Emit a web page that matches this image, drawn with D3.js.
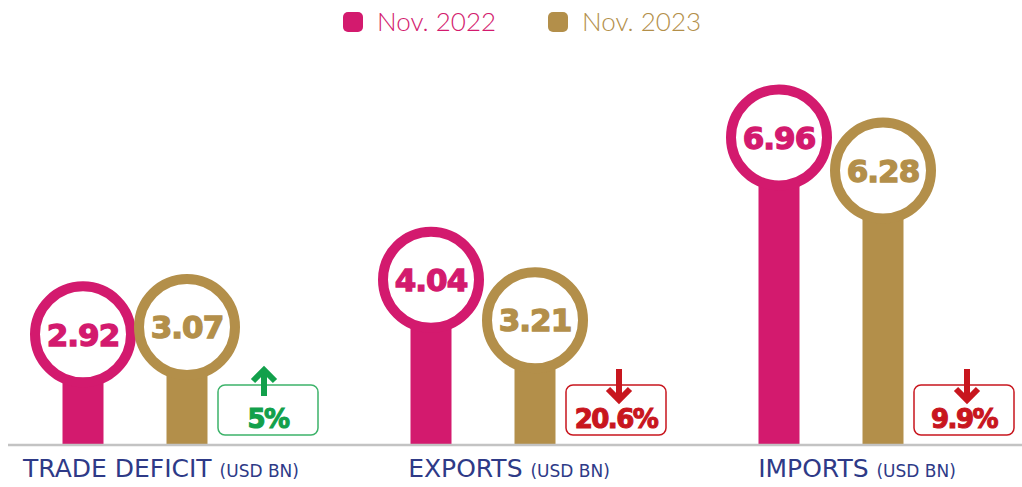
<!DOCTYPE html>
<html>
<head>
<meta charset="utf-8">
<script src="https://cdn.jsdelivr.net/npm/d3@7"></script>
<style>
  body { margin: 0; background: #fff; }
  svg { display: block; }
</style>
</head>
<body>
<div id="chart"></div>
<script>
var categories = ["TRADE DEFICIT", "EXPORTS", "IMPORTS"];
var unitLabel = "(USD BN)";
var seriesNames = ["Nov. 2022", "Nov. 2023"];
var nov2022 = [2.92, 4.04, 6.96];
var nov2023 = [3.07, 3.21, 6.28];
var changePct = [5, -20.6, -9.9];

var colors = ["#d31a6e", "#b38f4a"];
var upColor = "#12a04b", downColor = "#c8161e";

var width = 1022, height = 487;
var baseline = 445;

var svg = d3.select("#chart")
    .append("svg")
        .attr("width", width)
        .attr("height", height);

// group centres and the two lollipops inside each group
var x0 = d3.scalePoint()
    .domain(categories)
    .range([135, 831]);

var x1 = d3.scalePoint()
    .domain(seriesNames)
    .range([-52, 52]);

// circle centre height (infographic, not zero based)
var yScale = d3.scaleLinear()
    .domain([0.65, 7])
    .range([baseline, baseline - 309.5]);

var rows = [];
categories.forEach(function(c, i) {
    rows.push({cat: c, s: 0, value: nov2022[i]});
    rows.push({cat: c, s: 1, value: nov2023[i]});
});

// legend
var legend = svg.append("g");
var legendItem = legend.selectAll("g.item")
    .data(seriesNames)
    .enter()
    .append("g")
    .attr("class", "item")
    .attr("transform", function(d, i) { return "translate(" + (343 + i * 205) + ",12)"; });

legendItem.append("rect")
    .attr("width", 20)
    .attr("height", 20)
    .attr("rx", 5)
    .style("fill", function(d, i) { return colors[i]; });

legendItem.append("text")
    .attr("x", 34)
    .attr("y", 19)
    .style("font-family", "Lato")
    .style("font-weight", 300)
    .style("font-size", "26px")
    .style("fill", function(d, i) { return colors[i]; })
    .text(function(d) { return d; });

// stems first, then rings on top
var lolli = svg.append("g");

lolli.selectAll("rect.stem")
    .data(rows)
    .enter()
    .append("rect")
    .attr("class", "stem")
    .attr("x", function(d) { return x0(d.cat) + x1(seriesNames[d.s]) - 20.5; })
    .attr("y", function(d) { return yScale(d.value); })
    .attr("width", 41)
    .attr("height", function(d) { return baseline - yScale(d.value); })
    .style("fill", function(d) { return colors[d.s]; });

lolli.selectAll("circle.ring")
    .data(rows)
    .enter()
    .append("circle")
    .attr("class", "ring")
    .attr("cx", function(d) { return x0(d.cat) + x1(seriesNames[d.s]); })
    .attr("cy", function(d) { return yScale(d.value); })
    .attr("r", 48)
    .style("fill", "#fff")
    .style("stroke", function(d) { return colors[d.s]; })
    .style("stroke-width", 10);

lolli.selectAll("text.value")
    .data(rows)
    .enter()
    .append("text")
    .attr("class", "value")
    .attr("x", function(d) { return x0(d.cat) + x1(seriesNames[d.s]); })
    .attr("y", function(d) { return yScale(d.value); })
    .attr("dy", "0.36em")
    .style("text-anchor", "middle")
    .style("font-family", "DejaVu Sans")
    .style("font-weight", "bold")
    .style("font-size", "31px")
    .style("letter-spacing", "-1px")
    .style("fill", function(d) { return colors[d.s]; })
    .style("stroke", function(d) { return colors[d.s]; })
    .style("stroke-width", 1.3)
    .text(function(d) { return d.value.toFixed(2); });

// baseline
svg.append("line")
    .attr("x1", 8)
    .attr("x2", width)
    .attr("y1", baseline)
    .attr("y2", baseline)
    .style("stroke", "#c3c3c3")
    .style("stroke-width", 2.5);

// change boxes
var change = svg.selectAll("g.change")
    .data(changePct)
    .enter()
    .append("g")
    .attr("class", "change")
    .attr("transform", function(d, i) { return "translate(" + (x0(categories[i]) + 133) + ",0)"; });

change.append("rect")
    .attr("x", -50)
    .attr("y", 385)
    .attr("width", 100)
    .attr("height", 50)
    .attr("rx", 7)
    .style("fill", "#fff")
    .style("stroke", function(d) { return d >= 0 ? "#3db36a" : downColor; })
    .style("stroke-width", 1.5);

change.append("text")
    .attr("x", 0)
    .attr("y", 428)
    .style("text-anchor", "middle")
    .style("font-family", "DejaVu Sans")
    .style("font-weight", "bold")
    .style("font-size", "26px")
    .style("letter-spacing", "-1.5px")
    .style("fill", function(d) { return d >= 0 ? upColor : downColor; })
    .style("stroke", function(d) { return d >= 0 ? upColor : downColor; })
    .style("stroke-width", 1.1)
    .text(function(d) { return Math.abs(d) + "%"; });

// arrows: shaft + chevron head
change.append("path")
    .attr("d", function(d, i) {
        var ax = i == 0 ? -4 : 3;
        if (d >= 0) {
            return "M" + ax + ",396V370M" + (ax - 11) + ",381L" + ax + ",370L" + (ax + 11) + ",381";
        }
        return "M" + ax + ",369V399M" + (ax - 11) + ",389L" + ax + ",400L" + (ax + 11) + ",389";
    })
    .style("fill", "none")
    .style("stroke", function(d) { return d >= 0 ? upColor : downColor; })
    .style("stroke-width", 6);

// category labels
var label = svg.selectAll("text.cat")
    .data(categories)
    .enter()
    .append("text")
    .attr("class", "cat")
    .attr("x", function(d) { return x0(d) + 26; })
    .attr("y", 477)
    .style("text-anchor", "middle")
    .style("font-family", "DejaVu Sans")
    .style("fill", "#2e3a87");

label.append("tspan")
    .style("font-size", "25px")
    .text(function(d) { return d + " "; });

label.append("tspan")
    .style("font-size", "17px")
    .text(unitLabel);
</script>
</body>
</html>
